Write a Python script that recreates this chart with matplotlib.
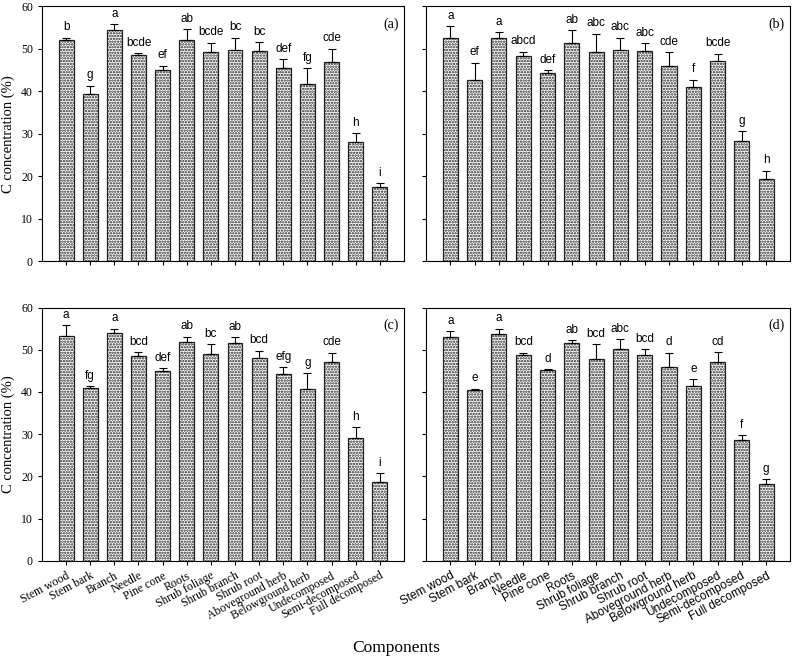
import numpy as np
import matplotlib
matplotlib.use("Agg")
import matplotlib.pyplot as plt

plt.rcParams['hatch.linewidth'] = 1.15

components = ["Stem wood", "Stem bark", "Branch", "Needle", "Pine cone", "Roots",
              "Shrub foliage", "Shrub branch", "Shrub root", "Aboveground herb",
              "Belowground herb", "Undecomposed", "Semi-decomposed", "Full decomposed"]

# (a)
mean_a = [52.0, 39.4, 54.4, 48.5, 44.9, 52.1, 49.1, 49.6, 49.4, 45.5, 41.7, 46.8, 28.0, 17.5]
err_a = [0.6, 1.9, 1.3, 0.4, 1.1, 2.4, 2.3, 3.0, 2.2, 2.1, 3.7, 3.2, 2.2, 0.8]
let_a = ["b", "g", "a", "bcde", "ef", "ab", "bcde", "bc", "bc", "def", "fg", "cde", "h", "i"]

# (b)
mean_b = [52.4, 42.5, 52.4, 48.2, 44.3, 51.4, 49.3, 49.7, 49.5, 45.9, 41.0, 47.0, 28.3, 19.4]
err_b = [2.8, 4.2, 1.4, 1.1, 0.7, 3.0, 4.2, 2.9, 1.7, 3.3, 1.7, 1.8, 2.3, 1.9]
let_b = ["a", "ef", "a", "abcd", "def", "ab", "abc", "abc", "abc", "cde", "f", "bcde", "g", "h"]

# (c)
mean_c = [53.2, 41.0, 54.0, 48.6, 44.9, 51.9, 49.1, 51.6, 48.1, 44.3, 40.6, 47.0, 29.1, 18.7]
err_c = [2.7, 0.3, 1.0, 0.9, 0.8, 1.2, 2.2, 1.4, 1.7, 1.6, 3.9, 2.3, 2.5, 2.0]
let_c = ["a", "fg", "a", "bcd", "def", "ab", "bc", "ab", "bcd", "efg", "g", "cde", "h", "i"]

# (d)
mean_d = [53.1, 40.4, 53.8, 48.7, 45.3, 51.7, 47.9, 50.1, 48.8, 45.8, 41.3, 47.2, 28.7, 18.2]
err_d = [1.4, 0.4, 1.2, 0.6, 0.1, 0.6, 3.4, 2.5, 1.3, 3.5, 1.8, 2.2, 1.0, 1.2]
let_d = ["a", "e", "a", "bcd", "d", "ab", "bcd", "abc", "bcd", "d", "e", "cd", "f", "g"]

panels = [
    ("(a)", mean_a, err_a, let_a, [0.053, 0.610, 0.457, 0.381]),
    ("(b)", mean_b, err_b, let_b, [0.538, 0.610, 0.460, 0.381]),
    ("(c)", mean_c, err_c, let_c, [0.053, 0.163, 0.457, 0.378]),
    ("(d)", mean_d, err_d, let_d, [0.538, 0.163, 0.460, 0.378]),
]

serif = "Liberation Serif"
sans = "Liberation Sans"

fig = plt.figure(figsize=(7.92, 6.70), dpi=100)
x = np.arange(len(components))

for name, mean, err, letters, pos in panels:
    ax = fig.add_axes(pos)
    ax.bar(x, mean, width=0.62, color="white", edgecolor="#222222", linewidth=0.9,
           hatch="......", zorder=2)
    ax.errorbar(x, mean, yerr=[np.zeros(len(err)), err], fmt="none", ecolor="black",
                elinewidth=0.8, capsize=3, capthick=0.8, zorder=3)
    for xi, m, e, l in zip(x, mean, err, letters):
        ax.text(xi, m + e + 1.0, l, ha="center", va="bottom", fontsize=8.5, family=sans)
    ax.set_xlim(-1, 14)
    ax.set_ylim(0, 60)
    ax.set_yticks(range(0, 61, 10))
    ax.set_xticks(x)
    ax.tick_params(direction="out", length=3, width=0.8)
    for s in ax.spines.values():
        s.set_linewidth(0.8)
    ax.text(0.985, 0.955, name, transform=ax.transAxes, ha="right", va="top",
            fontsize=10, family=serif)
    if name in ("(a)", "(c)"):
        ax.set_yticklabels([str(v) for v in range(0, 61, 10)], family=serif, fontsize=8.5)
        ax.set_ylabel("C concentration (%)", family=serif, fontsize=10.5)
    else:
        ax.set_yticklabels([])
    if name == "(c)":
        ax.set_xticklabels(components, rotation=28, ha="right", rotation_mode="anchor",
                           family=serif, fontsize=8.5)
    elif name == "(d)":
        ax.set_xticklabels(components, rotation=28, ha="right", rotation_mode="anchor",
                           family=sans, fontsize=8.5)
    else:
        ax.set_xticklabels([])

fig.text(0.5, 0.033, "Components", ha="center", va="center", family=serif, fontsize=12.5)

fig.savefig("out.png", dpi=100)
